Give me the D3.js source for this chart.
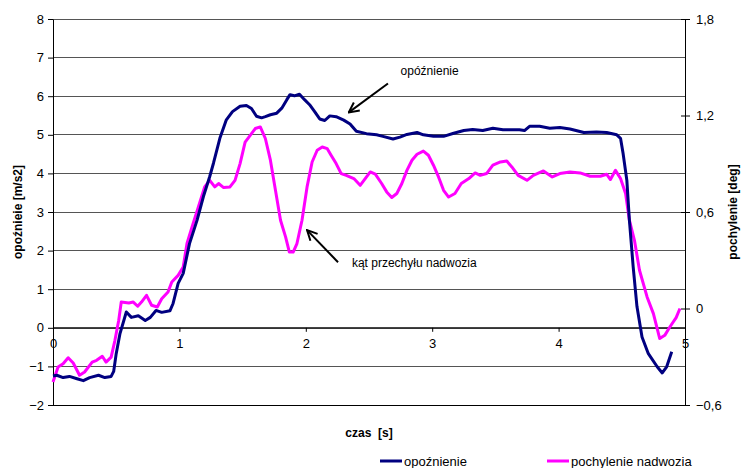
<!DOCTYPE html>
<html>
<head>
<meta charset="utf-8">
<script src="https://cdn.jsdelivr.net/npm/d3@7"></script>
<style>
  body { margin: 0; background: #fff; }
  svg text { font-family: "Liberation Sans", Arial, sans-serif; fill: #000; }
</style>
</head>
<body>
<div id="chart"></div>
<script>
// opóźnienie [m/s2] vs czas [s] (left axis)
const opoznienieT = [0.0, 0.03, 0.08, 0.13, 0.19, 0.24, 0.29, 0.36, 0.41, 0.46, 0.48, 0.50, 0.53, 0.58, 0.62, 0.675, 0.73, 0.77, 0.815, 0.86, 0.925, 0.95, 0.99, 1.03, 1.08, 1.14, 1.19, 1.24, 1.27, 1.32, 1.37, 1.42, 1.48, 1.53, 1.57, 1.61, 1.65, 1.68, 1.72, 1.77, 1.81, 1.85, 1.875, 1.91, 1.95, 1.99, 2.03, 2.07, 2.11, 2.15, 2.19, 2.24, 2.30, 2.35, 2.40, 2.48, 2.56, 2.61, 2.69, 2.745, 2.80, 2.88, 2.93, 3.01, 3.09, 3.17, 3.25, 3.32, 3.40, 3.48, 3.56, 3.64, 3.69, 3.73, 3.77, 3.85, 3.93, 4.01, 4.09, 4.20, 4.30, 4.38, 4.46, 4.49, 4.51, 4.54, 4.56, 4.59, 4.62, 4.66, 4.71, 4.78, 4.82, 4.855, 4.895];
const opoznienieV = [-1.25, -1.23, -1.29, -1.26, -1.32, -1.37, -1.29, -1.23, -1.29, -1.26, -1.13, -0.67, -0.15, 0.41, 0.27, 0.31, 0.19, 0.27, 0.45, 0.40, 0.44, 0.63, 1.15, 1.41, 2.18, 2.79, 3.40, 3.92, 4.27, 4.91, 5.38, 5.60, 5.74, 5.76, 5.68, 5.48, 5.44, 5.47, 5.52, 5.56, 5.69, 5.91, 6.04, 6.01, 6.05, 5.91, 5.78, 5.60, 5.41, 5.37, 5.49, 5.47, 5.38, 5.28, 5.09, 5.03, 5.00, 4.96, 4.89, 4.94, 5.01, 5.06, 5.00, 4.96, 4.96, 5.04, 5.11, 5.14, 5.11, 5.17, 5.13, 5.13, 5.13, 5.11, 5.22, 5.22, 5.17, 5.19, 5.15, 5.06, 5.07, 5.06, 5.00, 4.91, 4.52, 3.82, 2.79, 1.58, 0.55, -0.24, -0.67, -1.01, -1.17, -1.01, -0.62];

// pochylenie nadwozia [deg] vs czas [s] (right axis)
const pochylenieT = [0.0, 0.04, 0.08, 0.12, 0.16, 0.21, 0.25, 0.31, 0.345, 0.39, 0.42, 0.46, 0.49, 0.52, 0.54, 0.60, 0.635, 0.67, 0.70, 0.74, 0.78, 0.825, 0.86, 0.91, 0.94, 0.99, 1.03, 1.06, 1.10, 1.15, 1.20, 1.24, 1.28, 1.31, 1.35, 1.40, 1.44, 1.48, 1.52, 1.56, 1.60, 1.64, 1.68, 1.72, 1.76, 1.80, 1.84, 1.87, 1.90, 1.93, 1.97, 2.01, 2.05, 2.09, 2.13, 2.17, 2.20, 2.24, 2.28, 2.32, 2.38, 2.43, 2.47, 2.51, 2.55, 2.60, 2.64, 2.68, 2.72, 2.76, 2.80, 2.84, 2.88, 2.93, 2.97, 3.01, 3.05, 3.09, 3.13, 3.18, 3.23, 3.29, 3.34, 3.38, 3.43, 3.48, 3.54, 3.59, 3.63, 3.68, 3.75, 3.80, 3.88, 3.95, 4.01, 4.09, 4.17, 4.25, 4.33, 4.38, 4.41, 4.45, 4.49, 4.53, 4.56, 4.60, 4.64, 4.70, 4.75, 4.80, 4.84, 4.88, 4.93, 4.96];
const pochylenieV = [-0.457, -0.364, -0.343, -0.306, -0.339, -0.415, -0.395, -0.333, -0.322, -0.297, -0.333, -0.302, -0.198, -0.073, 0.040, 0.034, 0.040, 0.014, 0.040, 0.082, 0.020, 0.009, 0.061, 0.103, 0.165, 0.206, 0.258, 0.404, 0.507, 0.631, 0.756, 0.797, 0.756, 0.777, 0.752, 0.756, 0.797, 0.901, 1.035, 1.077, 1.119, 1.129, 1.057, 0.922, 0.735, 0.549, 0.445, 0.351, 0.351, 0.404, 0.549, 0.756, 0.911, 0.984, 1.004, 0.994, 0.953, 0.901, 0.839, 0.828, 0.808, 0.766, 0.808, 0.849, 0.835, 0.777, 0.725, 0.690, 0.715, 0.777, 0.859, 0.922, 0.959, 0.979, 0.953, 0.891, 0.818, 0.735, 0.693, 0.715, 0.777, 0.808, 0.843, 0.828, 0.839, 0.891, 0.911, 0.917, 0.880, 0.828, 0.797, 0.828, 0.855, 0.818, 0.839, 0.849, 0.843, 0.822, 0.822, 0.835, 0.802, 0.859, 0.808, 0.715, 0.549, 0.424, 0.238, 0.072, -0.032, -0.187, -0.167, -0.115, -0.057, 0.0];

const xTicks = [0, 1, 2, 3, 4, 5];
const leftTicks = [-2, -1, 0, 1, 2, 3, 4, 5, 6, 7, 8];
const rightTicks = [-0.6, 0, 0.6, 1.2, 1.8];
const seriesNames = ["opoźnienie", "pochylenie nadwozia"];

const W = 741, H = 468;
const margin = {top: 19, right: 56, bottom: 63, left: 53};
const iw = W - margin.left - margin.right;
const ih = H - margin.top - margin.bottom;

const svg = d3.select("#chart").append("svg")
    .attr("width", W)
    .attr("height", H);

const x = d3.scaleLinear().domain([0, 5]).range([margin.left, margin.left + iw]);
const yL = d3.scaleLinear().domain([-2, 8]).range([margin.top + ih, margin.top]);
const yR = d3.scaleLinear().domain([-0.6, 1.8]).range([margin.top + ih, margin.top]);

// gridlines
svg.append("g")
    .selectAll("line")
    .data(leftTicks)
    .enter()
    .append("line")
    .attr("x1", x(0)).attr("x2", x(5))
    .attr("y1", d => yL(d)).attr("y2", d => yL(d))
    .attr("stroke", d => d === -2 ? "#000" : "#555")
    .attr("stroke-width", 1)
    .attr("shape-rendering", "crispEdges");

// left axis
const leftAxis = svg.append("g")
    .attr("transform", `translate(${margin.left},0)`)
    .call(d3.axisLeft(yL).tickValues(leftTicks).tickSize(5).tickSizeOuter(0).tickPadding(4));
leftAxis.selectAll("text").attr("font-size", 13).style("font-family", "Liberation Sans, Arial");

// right axis
const rightAxis = svg.append("g")
    .attr("transform", `translate(${margin.left + iw},0)`)
    .call(d3.axisRight(yR).tickValues(rightTicks).tickSize(5).tickSizeOuter(0).tickPadding(6)
        .tickFormat(d => d3.format(".1~f")(d).replace(".", ",")));
rightAxis.selectAll("text").attr("font-size", 13).style("font-family", "Liberation Sans, Arial");
rightAxis.selectAll(".tick line").attr("x1", -4);

// x axis at y = 0
const xAxis = svg.append("g")
    .attr("transform", `translate(0,${yL(0)})`)
    .call(d3.axisBottom(x).tickValues(xTicks).tickFormat(d3.format("d"))
        .tickSize(4).tickSizeOuter(0).tickPadding(7));
xAxis.selectAll("text").attr("font-size", 13).style("font-family", "Liberation Sans, Arial");

svg.selectAll(".domain").attr("stroke", "#000");
svg.selectAll(".tick line").attr("stroke", "#000");

// series
const lineL = d3.line().x(d => x(d[0])).y(d => yL(d[1]));
const lineR = d3.line().x(d => x(d[0])).y(d => yR(d[1]));

svg.append("path")
    .datum(pochylenieT.map((t, i) => [t, pochylenieV[i]]))
    .attr("d", lineR)
    .attr("fill", "none")
    .attr("stroke", "#ff00ff")
    .attr("stroke-width", 3)
    .attr("stroke-linejoin", "round");

svg.append("path")
    .datum(opoznienieT.map((t, i) => [t, opoznienieV[i]]))
    .attr("d", lineL)
    .attr("fill", "none")
    .attr("stroke", "#000080")
    .attr("stroke-width", 3)
    .attr("stroke-linejoin", "round");

// annotations
svg.append("defs").append("marker")
    .attr("id", "arr")
    .attr("viewBox", "0 0 12 12")
    .attr("refX", 11).attr("refY", 6)
    .attr("markerWidth", 12).attr("markerHeight", 12)
    .attr("markerUnits", "userSpaceOnUse")
    .attr("orient", "auto")
    .append("path")
    .attr("d", "M1,1 L11,6 L1,11")
    .attr("fill", "none")
    .attr("stroke", "#000")
    .attr("stroke-width", 2);

const notes = [
    {text: "opóźnienie", tx: 2.75, ty: 6.54, from: [2.65, 6.33], to: [2.34, 5.58]},
    {text: "kąt przechyłu nadwozia", tx: 2.365, ty: 1.57, from: [2.255, 1.70], to: [2.01, 2.53]}
];
notes.forEach(n => {
    svg.append("line")
        .attr("x1", x(n.from[0])).attr("y1", yL(n.from[1]))
        .attr("x2", x(n.to[0])).attr("y2", yL(n.to[1]))
        .attr("stroke", "#000").attr("stroke-width", 2)
        .attr("marker-end", "url(#arr)");
    svg.append("text")
        .attr("x", x(n.tx)).attr("y", yL(n.ty))
        .attr("font-size", 12)
        .text(n.text);
});

// axis titles
svg.append("text")
    .attr("transform", `translate(22,${margin.top + ih / 2}) rotate(-90)`)
    .attr("text-anchor", "middle")
    .attr("font-size", 12).attr("font-weight", "bold")
    .text("opoźnieie [m/s2]");

svg.append("text")
    .attr("transform", `translate(737,${margin.top + ih / 2}) rotate(-90)`)
    .attr("text-anchor", "middle")
    .attr("font-size", 12).attr("font-weight", "bold")
    .text("pochylenie [deg]");

svg.append("text")
    .attr("x", margin.left + iw / 2).attr("y", 437)
    .attr("text-anchor", "middle")
    .attr("font-size", 12).attr("font-weight", "bold")
    .style("white-space", "pre")
    .text("czas  [s]");

// legend
const legend = svg.append("g").attr("transform", "translate(380,461)");
const legendX = [0, 167];
const legendColors = ["#000080", "#ff00ff"];
seriesNames.forEach((name, i) => {
    legend.append("line")
        .attr("x1", legendX[i]).attr("x2", legendX[i] + 22)
        .attr("y1", 0).attr("y2", 0)
        .attr("stroke", legendColors[i]).attr("stroke-width", 3);
    legend.append("text")
        .attr("x", legendX[i] + 24).attr("y", 5)
        .attr("font-size", 13)
        .text(name);
});
</script>
</body>
</html>
